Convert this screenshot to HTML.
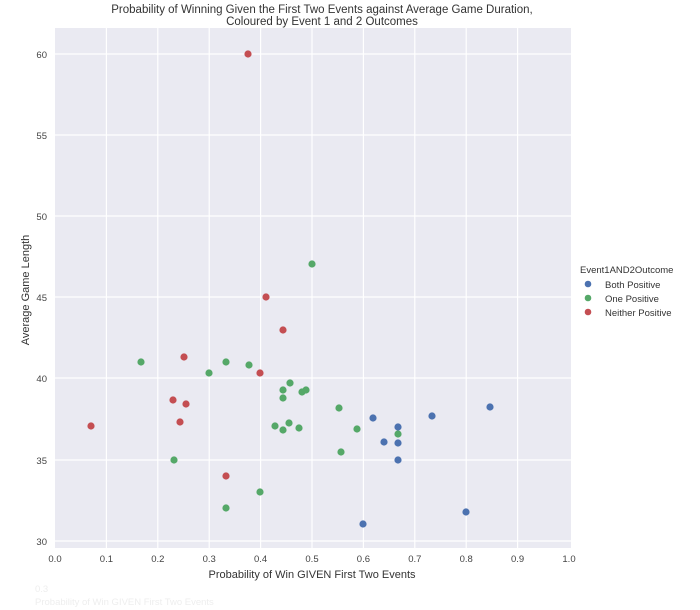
<!DOCTYPE html>
<html><head><style>
html,body{margin:0;padding:0;background:#fff;}
svg{display:block;font-family:"Liberation Sans",Arial,sans-serif;}
</style></head><body>
<svg width="700" height="610" viewBox="0 0 700 610" xmlns="http://www.w3.org/2000/svg">
<rect width="700" height="610" fill="#fff"/>
<text x="322" y="13" font-size="11.5" fill="#333" text-anchor="middle">Probability of Winning Given the First Two Events against Average Game Duration,</text>
<text x="322" y="25" font-size="11.5" fill="#333" text-anchor="middle">Coloured by Event 1 and 2 Outcomes</text>
<rect x="55" y="28" width="516" height="520" fill="#eaeaf2"/>
<g stroke="#fff" stroke-width="1.2">
<line x1="55" y1="541" x2="571" y2="541"/><line x1="55" y1="460" x2="571" y2="460"/><line x1="55" y1="378" x2="571" y2="378"/><line x1="55" y1="297" x2="571" y2="297"/><line x1="55" y1="216" x2="571" y2="216"/><line x1="55" y1="135" x2="571" y2="135"/><line x1="55" y1="54" x2="571" y2="54"/>
<line x1="106.4" y1="28" x2="106.4" y2="548"/><line x1="157.8" y1="28" x2="157.8" y2="548"/><line x1="209.2" y1="28" x2="209.2" y2="548"/><line x1="260.6" y1="28" x2="260.6" y2="548"/><line x1="312" y1="28" x2="312" y2="548"/><line x1="363.4" y1="28" x2="363.4" y2="548"/><line x1="414.8" y1="28" x2="414.8" y2="548"/><line x1="466.2" y1="28" x2="466.2" y2="548"/><line x1="517.6" y1="28" x2="517.6" y2="548"/>
</g>
<g font-size="9.5" fill="#444" text-anchor="end">
<text x="47" y="545">30</text><text x="47" y="464">35</text><text x="47" y="382">40</text><text x="47" y="301">45</text><text x="47" y="220">50</text><text x="47" y="139">55</text><text x="47" y="58">60</text>
</g>
<g font-size="9.5" fill="#444" text-anchor="middle">
<text x="55" y="562">0.0</text><text x="106.4" y="562">0.1</text><text x="157.8" y="562">0.2</text><text x="209.2" y="562">0.3</text><text x="260.6" y="562">0.4</text><text x="312" y="562">0.5</text><text x="363.4" y="562">0.6</text><text x="414.8" y="562">0.7</text><text x="466.2" y="562">0.8</text><text x="517.6" y="562">0.9</text><text x="569" y="562">1.0</text>
</g>
<text x="312" y="578" font-size="11" fill="#333" text-anchor="middle">Probability of Win GIVEN First Two Events</text>
<text transform="translate(29,290) rotate(-90)" font-size="11" fill="#333" text-anchor="middle">Average Game Length</text>
<g font-size="9.5" fill="#eee"><text x="35" y="592">0.3</text><text x="35" y="605">Probability of Win GIVEN First Two Events</text></g>
<g fill="#c44e52">
<circle cx="248" cy="54" r="3.6"/><circle cx="266" cy="297" r="3.6"/><circle cx="283" cy="330" r="3.6"/><circle cx="184" cy="357" r="3.6"/><circle cx="260" cy="373" r="3.6"/><circle cx="173" cy="400" r="3.6"/><circle cx="186" cy="404" r="3.6"/><circle cx="180" cy="422" r="3.6"/><circle cx="91" cy="426" r="3.6"/><circle cx="226" cy="476" r="3.6"/>
</g>
<g fill="#55a868">
<circle cx="312" cy="264" r="3.6"/><circle cx="141" cy="362" r="3.6"/><circle cx="209" cy="373" r="3.6"/><circle cx="226" cy="362" r="3.6"/><circle cx="249" cy="365" r="3.6"/><circle cx="290" cy="383" r="3.6"/><circle cx="283" cy="390" r="3.6"/><circle cx="283" cy="398" r="3.6"/><circle cx="302" cy="392" r="3.6"/><circle cx="306" cy="390" r="3.6"/><circle cx="339" cy="408" r="3.6"/><circle cx="275" cy="426" r="3.6"/><circle cx="289" cy="423" r="3.6"/><circle cx="283" cy="430" r="3.6"/><circle cx="299" cy="428" r="3.6"/><circle cx="398" cy="434" r="3.6"/><circle cx="174" cy="460" r="3.6"/><circle cx="341" cy="452" r="3.6"/><circle cx="357" cy="429" r="3.6"/><circle cx="260" cy="492" r="3.6"/><circle cx="226" cy="508" r="3.6"/>
</g>
<g fill="#4c72b0">
<circle cx="373" cy="418" r="3.6"/><circle cx="398" cy="427" r="3.6"/><circle cx="398" cy="443" r="3.6"/><circle cx="384" cy="442" r="3.6"/><circle cx="432" cy="416" r="3.6"/><circle cx="490" cy="407" r="3.6"/><circle cx="398" cy="460" r="3.6"/><circle cx="363" cy="524" r="3.6"/><circle cx="466" cy="512" r="3.6"/>
</g>
<text x="580" y="273" font-size="9.5" fill="#333">Event1AND2Outcome</text>
<circle cx="588" cy="284" r="3.3" fill="#4c72b0"/><text x="605" y="288" font-size="9.5" fill="#333">Both Positive</text>
<circle cx="588" cy="298" r="3.3" fill="#55a868"/><text x="605" y="302" font-size="9.5" fill="#333">One Positive</text>
<circle cx="588" cy="312" r="3.3" fill="#c44e52"/><text x="605" y="316" font-size="9.5" fill="#333">Neither Positive</text>
</svg>
</body></html>
